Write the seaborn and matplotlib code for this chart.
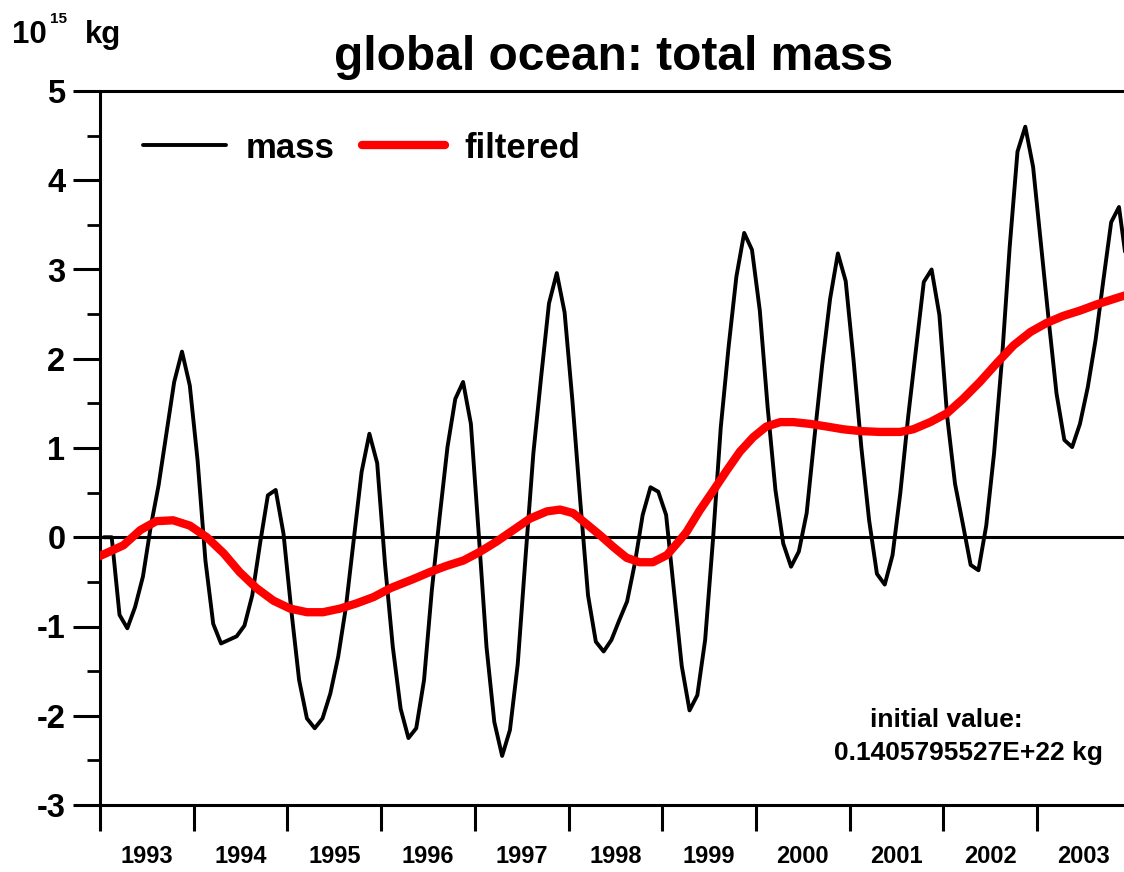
import numpy as np
import pandas as pd
import matplotlib
matplotlib.use("Agg")
import matplotlib.pyplot as plt
import seaborn as sns
from matplotlib.ticker import FixedLocator, NullFormatter, FixedFormatter

# Monthly global ocean mass anomaly (10^15 kg), Jan 1993 .. Dec 2003
start_year = 1993
mass = [
    0.00, 0.00, -0.87, -1.02, -0.78, -0.44, 0.12, 0.58, 1.16, 1.74, 2.08, 1.70,
    0.86, -0.26, -0.97, -1.19, -1.15, -1.11, -0.99, -0.65, -0.07, 0.47, 0.53, 0.04,
    -0.82, -1.60, -2.03, -2.14, -2.03, -1.75, -1.34, -0.78, -0.03, 0.73, 1.16, 0.83,
    -0.30, -1.23, -1.92, -2.25, -2.14, -1.60, -0.59, 0.23, 1.01, 1.55, 1.74, 1.27,
    0.04, -1.23, -2.07, -2.45, -2.16, -1.42, -0.22, 0.94, 1.80, 2.62, 2.96, 2.52,
    1.53, 0.41, -0.65, -1.17, -1.28, -1.15, -0.93, -0.72, -0.29, 0.25, 0.56, 0.51,
    0.25, -0.60, -1.44, -1.94, -1.77, -1.15, -0.03, 1.23, 2.13, 2.92, 3.41, 3.22,
    2.54, 1.46, 0.53, -0.07, -0.33, -0.16, 0.27, 1.12, 1.94, 2.67, 3.18, 2.87,
    1.99, 1.01, 0.19, -0.41, -0.53, -0.20, 0.50, 1.35, 2.10, 2.86, 3.00, 2.49,
    1.35, 0.60, 0.15, -0.31, -0.37, 0.13, 0.94, 1.98, 3.25, 4.32, 4.60, 4.15,
    3.29, 2.43, 1.61, 1.09, 1.01, 1.27, 1.68, 2.21, 2.88, 3.53, 3.70, 3.05,
]
mass_time = start_year + (np.arange(len(mass)) + 0.5) / 12.0

# Low-pass filtered series
filt_time = [
    1993.00, 1993.25, 1993.43, 1993.60, 1993.78, 1993.96, 1994.14, 1994.32,
    1994.49, 1994.67, 1994.85, 1995.03, 1995.21, 1995.38, 1995.56, 1995.74,
    1995.92, 1996.10, 1996.34, 1996.52, 1996.70, 1996.88, 1997.06, 1997.23,
    1997.41, 1997.59, 1997.77, 1997.91, 1998.05, 1998.19, 1998.34, 1998.48,
    1998.62, 1998.76, 1998.90, 1999.05, 1999.19, 1999.26, 1999.40, 1999.55,
    1999.69, 1999.83, 1999.97, 2000.11, 2000.26, 2000.40, 2000.58, 2000.76,
    2000.93, 2001.11, 2001.32, 2001.54, 2001.68, 2001.86, 2002.04, 2002.21,
    2002.39, 2002.57, 2002.75, 2002.93, 2003.10, 2003.28, 2003.46, 2003.64,
    2003.82, 2004.00,
]
filt_val = [
    -0.21, -0.09, 0.08, 0.18, 0.19, 0.13, 0.00, -0.18,
    -0.39, -0.57, -0.71, -0.80, -0.84, -0.84, -0.80, -0.74,
    -0.67, -0.57, -0.47, -0.39, -0.32, -0.26, -0.16, -0.05,
    0.08, 0.21, 0.29, 0.31, 0.27, 0.15, 0.02, -0.11,
    -0.23, -0.28, -0.28, -0.20, -0.03, 0.06, 0.30, 0.53,
    0.75, 0.96, 1.12, 1.24, 1.29, 1.29, 1.27, 1.24,
    1.21, 1.19, 1.18, 1.18, 1.21, 1.29, 1.39, 1.55,
    1.74, 1.95, 2.15, 2.30, 2.40, 2.48, 2.54, 2.61,
    2.67, 2.73,
]

year_labels = [str(y) for y in range(1993, 2004)]
y_ticks = [-3, -2, -1, 0, 1, 2, 3, 4, 5]

mass_df = pd.DataFrame({"time": mass_time, "value": mass})
filt_df = pd.DataFrame({"time": filt_time, "value": filt_val})

sns.set_style("ticks")
plt.rcParams["font.family"] = ["Liberation Sans", "DejaVu Sans"]
plt.rcParams["font.weight"] = "bold"
plt.rcParams["axes.unicode_minus"] = False
for key in ["text.color", "axes.labelcolor", "xtick.color", "ytick.color",
            "axes.edgecolor"]:
    plt.rcParams[key] = "black"

W, H = 1124, 872
fig = plt.figure(figsize=(W / 100, H / 100), dpi=100)
# axes run from 1993 to 2004; the last part falls beyond the right edge of the figure
ax = fig.add_axes([100 / W, 67 / H, 1030.7 / W, 714 / H])

ax.axhline(0, color="black", lw=2.2, zorder=1)
sns.lineplot(data=mass_df, x="time", y="value", ax=ax, color="black",
             lw=2.8, label="mass", estimator=None, sort=False, zorder=3)
sns.lineplot(data=filt_df, x="time", y="value", ax=ax, color="#ff0000",
             lw=6.0, label="filtered", estimator=None, sort=False, zorder=4,
             solid_capstyle="round")

ax.set_xlim(1993, 2004)
ax.set_ylim(-3, 5)
ax.set_xlabel("")
ax.set_ylabel("")

for side in ["left", "bottom", "top"]:
    ax.spines[side].set_visible(True)
    ax.spines[side].set_linewidth(2.2)
    ax.spines[side].set_color("black")
ax.spines["right"].set_visible(False)

# y axis: labelled integers, unlabelled half steps
ax.yaxis.set_major_locator(FixedLocator(y_ticks))
ax.yaxis.set_minor_locator(FixedLocator([v + 0.5 for v in y_ticks[:-1]]))
ax.tick_params(axis="y", which="major", direction="out", length=19.4, width=2.2,
               labelsize=23.5, pad=5.5, color="black", labelcolor="black")
ax.tick_params(axis="y", which="minor", direction="out", length=9.4, width=2.0,
               color="black")

# x axis: ticks on year boundaries, labels centred inside each year
ax.xaxis.set_major_locator(FixedLocator(list(range(1993, 2005))))
ax.xaxis.set_major_formatter(NullFormatter())
ax.xaxis.set_minor_locator(FixedLocator([y + 0.5 for y in range(1993, 2004)]))
ax.xaxis.set_minor_formatter(FixedFormatter(year_labels))
ax.tick_params(axis="x", which="major", direction="out", length=18.7, width=2.2,
               color="black")
ax.tick_params(axis="x", which="minor", length=0, labelsize=17, pad=29,
               labelcolor="black")
for lab in ax.get_xticklabels(minor=True) + ax.get_yticklabels():
    lab.set_fontweight("bold")

leg = ax.legend(loc="center left", bbox_to_anchor=(143 / W, 1 - 148 / H),
                bbox_transform=fig.transFigure, ncol=2, frameon=False,
                prop={"size": 25, "weight": "bold"}, handlelength=2.4,
                handletextpad=0.55, columnspacing=0.8, borderpad=0,
                borderaxespad=0, labelcolor="black")
for line in leg.get_lines():
    line.set_solid_capstyle("round")

fig.text(614 / W, 1 - 70 / H, "global ocean: total mass", ha="center",
         va="baseline", fontsize=34.5, fontweight="bold", color="black")

fig.text(12 / W, 1 - 43 / H, "10", ha="left", va="baseline", fontsize=22.5,
         fontweight="bold", color="black")
fig.text(50 / W, 1 - 23 / H, "15", ha="left", va="baseline", fontsize=11,
         fontweight="bold", color="black")
fig.text(85 / W, 1 - 43 / H, "kg", ha="left", va="baseline", fontsize=22.5,
         fontweight="bold", color="black")

fig.text(946 / W, 1 - 727 / H, "initial value:", ha="center", va="baseline",
         fontsize=19, fontweight="bold", color="black")
fig.text(968 / W, 1 - 760 / H, "0.1405795527E+22 kg", ha="center",
         va="baseline", fontsize=19, fontweight="bold", color="black")

fig.savefig("out.png", dpi=100, facecolor="white")
